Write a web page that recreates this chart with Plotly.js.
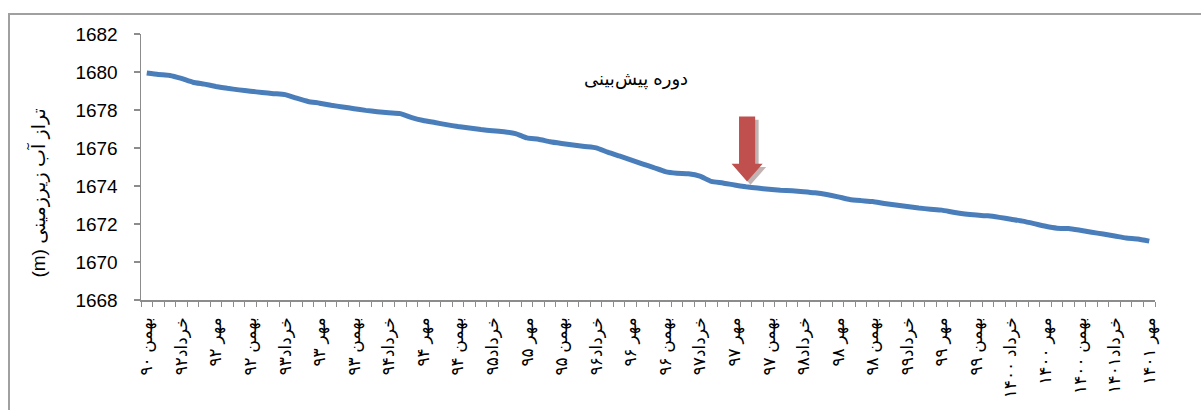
<!DOCTYPE html>
<html>
<head>
<meta charset="utf-8">
<script src="https://cdn.plot.ly/plotly-3.0.1.min.js"></script>
<style>
  html, body { margin: 0; padding: 0; background: #fff; }
  #wrap { position: relative; width: 1201px; height: 410px; overflow: hidden; }
  #chart { position: absolute; left: 0; top: 0; width: 1201px; height: 410px; }
  #frame { position: absolute; left: 8px; top: 13px; width: 1300px; height: 500px;
           border-left: 2px solid #a0a0a0; border-top: 2px solid #a0a0a0; pointer-events: none; }
</style>
</head>
<body>
<div id="wrap">
  <div id="chart"></div>
  <div id="frame"></div>
</div>
<script>
// Tick labels (one every 3 categories)
const tickLabels = [
  "بهمن ۹۰", "خرداد۹۲", "مهر ۹۲", "بهمن ۹۲", "خرداد۹۳", "مهر ۹۳", "بهمن ۹۳", "خرداد۹۴", "مهر ۹۴", "بهمن ۹۴",
  "خرداد۹۵", "مهر ۹۵", "بهمن ۹۵", "خرداد۹۶", "مهر ۹۶", "بهمن ۹۶", "خرداد۹۷", "مهر ۹۷", "بهمن ۹۷", "خرداد۹۸",
  "مهر ۹۸", "بهمن ۹۸", "خرداد۹۹", "مهر ۹۹", "بهمن ۹۹", "خرداد ۱۴۰۰", "مهر ۱۴۰۰", "بهمن ۱۴۰۰", "خرداد۱۴۰۱", "مهر ۱۴۰۱"
];
const labelEvery = 3;

// Groundwater level (m), one value per category
const levels = [
  1679.95, 1679.87, 1679.82, 1679.66, 1679.46, 1679.36, 1679.24, 1679.14, 1679.06, 1678.99,
  1678.92, 1678.86, 1678.81, 1678.62, 1678.45, 1678.36, 1678.25, 1678.16, 1678.07, 1677.98,
  1677.91, 1677.85, 1677.81, 1677.60, 1677.45, 1677.34, 1677.23, 1677.13, 1677.05, 1676.97,
  1676.91, 1676.86, 1676.76, 1676.53, 1676.46, 1676.33, 1676.24, 1676.16, 1676.08, 1676.01,
  1675.78, 1675.58, 1675.38, 1675.17, 1674.97, 1674.76, 1674.67, 1674.64, 1674.52, 1674.24,
  1674.16, 1674.05, 1673.96, 1673.89, 1673.83, 1673.78, 1673.75, 1673.70, 1673.64, 1673.55,
  1673.43, 1673.29, 1673.23, 1673.18, 1673.08, 1673.00, 1672.92, 1672.84, 1672.78, 1672.73,
  1672.62, 1672.53, 1672.47, 1672.43, 1672.35, 1672.25, 1672.15, 1672.02, 1671.88, 1671.78,
  1671.76, 1671.67, 1671.57, 1671.47, 1671.37, 1671.26, 1671.21, 1671.10
];

const yTitle = "تراز آب زیرزمینی (m)";
const noteText = "دوره پیش‌بینی";

const idx = levels.map((_, i) => i);
const tickPos = tickLabels.map((_, k) => k * labelEvery);

// Arrow (forecast start marker), in data units
const ax = 52.1, shaftHalf = 0.70, headHalf = 1.35;
const yTop = 1677.66, yHead = 1675.17, yTip = 1674.24;
function arrowPath(dx, dy) {
  const p = [
    [ax - shaftHalf + dx, yTop + dy], [ax + shaftHalf + dx, yTop + dy],
    [ax + shaftHalf + dx, yHead + dy], [ax + headHalf + dx, yHead + dy],
    [ax + dx, yTip + dy], [ax - headHalf + dx, yHead + dy],
    [ax - shaftHalf + dx, yHead + dy]
  ];
  return "M" + p.map(q => q[0] + "," + q[1]).join(" L") + " Z";
}

const fontFam = "Liberation Sans, DejaVu Sans, Arial, sans-serif";

const trace = {
  x: idx, y: levels, type: "scatter", mode: "lines",
  line: { color: "#4A7EBB", width: 5, shape: "spline", smoothing: 0.5 },
  hoverinfo: "skip"
};

const layout = {
  width: 1201, height: 410,
  margin: { l: 141, r: 46, t: 34, b: 110, pad: 0 },
  paper_bgcolor: "rgba(0,0,0,0)", plot_bgcolor: "rgba(0,0,0,0)",
  showlegend: false,
  font: { family: fontFam, color: "#000" },
  xaxis: {
    range: [-0.5, levels.length - 0.5],
    tickmode: "array", tickvals: tickPos, ticktext: tickLabels,
    tickangle: -90, ticks: "", ticklabelstandoff: 9,
    tickfont: { size: 17, family: fontFam, color: "#000" },
    showline: true, linecolor: "#8c8c8c", linewidth: 1.5,
    showgrid: false, zeroline: false,
    minor: { tick0: -0.5, dtick: 1, ticks: "outside", ticklen: 5, tickcolor: "#8c8c8c", tickwidth: 1, showgrid: false }
  },
  yaxis: {
    range: [1668, 1682], dtick: 2, tick0: 1668,
    ticks: "outside", ticklen: 6, tickcolor: "#8c8c8c", tickwidth: 1.5,
    ticklabelstandoff: 12,
    tickfont: { size: 19, family: fontFam, color: "#000" },
    showline: true, linecolor: "#8c8c8c", linewidth: 1.5,
    showgrid: false, zeroline: false
  },
  shapes: [
    { type: "path", xref: "x", yref: "y", path: arrowPath(0.3, -0.17),
      fillcolor: "rgba(120,85,85,0.45)", line: { width: 0 } },
    { type: "path", xref: "x", yref: "y", path: arrowPath(0, 0),
      fillcolor: "#C0504D", line: { width: 0 } }
  ],
  annotations: [
    { text: "\u202B" + yTitle + "\u202C", xref: "paper", yref: "paper", x: 0, y: 0.40,
      xshift: -103, textangle: -90, showarrow: false, xanchor: "center", yanchor: "middle",
      font: { size: 19, family: fontFam, color: "#000" } },
    { text: noteText, xref: "x", yref: "y", x: 42.5, y: 1679.6, showarrow: false,
      xanchor: "center", yanchor: "middle",
      font: { size: 18, family: fontFam, color: "#000" } }
  ]
};

Plotly.newPlot("chart", [trace], layout, { displayModeBar: false, staticPlot: true });
</script>
</body>
</html>
